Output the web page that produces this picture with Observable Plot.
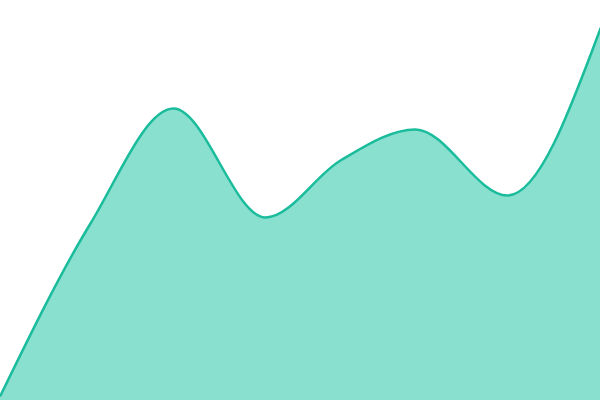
<!DOCTYPE html>
<html>
<head>
<meta charset="utf-8">
<script src="https://cdn.jsdelivr.net/npm/d3@7"></script>
<script src="https://cdn.jsdelivr.net/npm/@observablehq/plot@0.6"></script>
<style>
html,body{margin:0;padding:0;background:#fff;}
#chart svg{display:block;}
</style>
</head>
<body>
<div id="chart"></div>
<script>
const xs = [0, 90, 173, 265, 340, 415, 507, 600];
const values = [5, 177, 292, 183, 240, 271, 205, 372];
const data = xs.map((x, i) => ({x, y: values[i]}));

const chart = Plot.plot({
  width: 600,
  height: 400,
  margin: 0,
  x: {domain: [0, 600], axis: null},
  y: {domain: [0, 400], axis: null},
  marks: [
    Plot.areaY(data, {x: "x", y: "y", curve: "monotone-x", fill: "#89e0cf"}),
    Plot.lineY(data, {x: "x", y: "y", curve: "monotone-x", stroke: "#1abc9c", strokeWidth: 2.5})
  ]
});
document.getElementById("chart").append(chart);
</script>
</body>
</html>
